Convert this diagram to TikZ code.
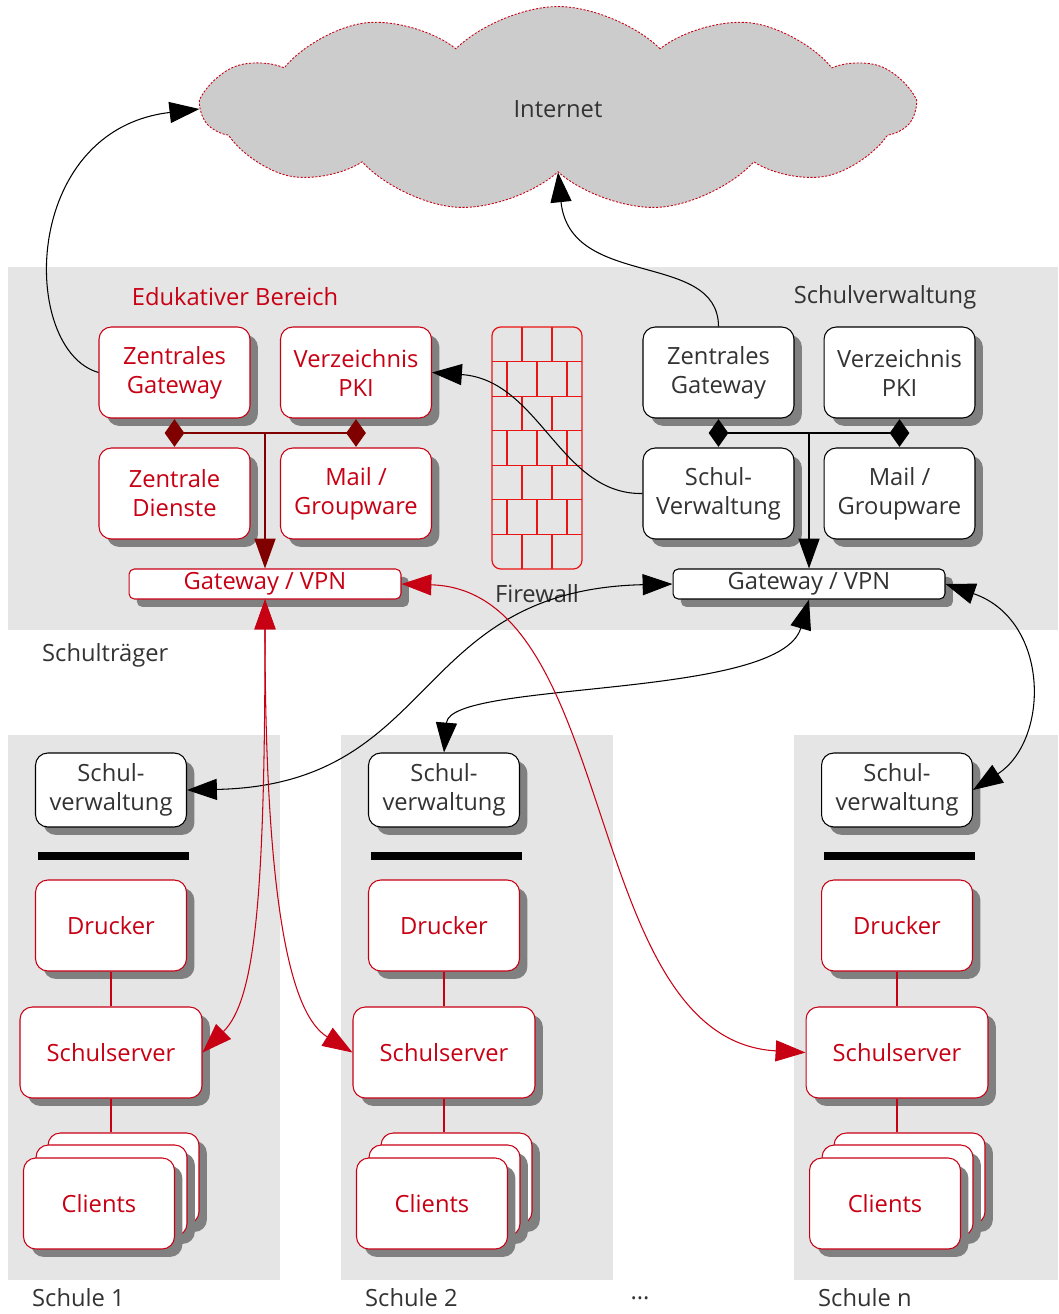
\documentclass[tikz,border=0pt]{standalone}
\usepackage{fontspec}
\setmainfont{Open Sans}
\usetikzlibrary{arrows.meta,shapes.geometric,shapes.symbols,shadows,positioning}
\definecolor{edured}{RGB}{200,0,20}
\definecolor{darktext}{RGB}{51,51,51}
\definecolor{bandgray}{RGB}{229,229,229}
\definecolor{cloudgray}{RGB}{204,204,204}
\definecolor{shadowgray}{RGB}{128,128,128}
\definecolor{connred}{RGB}{128,0,0}
\definecolor{brickred}{RGB}{235,20,20}
\begin{document}
\begin{tikzpicture}[x=0.02cm,y=-0.02cm,font=\fontsize{13.5}{16.5}\selectfont,
  >={Triangle[length=17pt,width=12pt]},
  boxstyle/.style={rounded corners=7pt,fill=white,line width=0.6pt,align=center,
    minimum width=3.02cm,minimum height=1.82cm,inner sep=2pt,
    drop shadow={shadow xshift=4.5pt,shadow yshift=-4.5pt,fill=shadowgray,opacity=1}},
  edustyle/.style={boxstyle,draw=edured,text=edured},
  verwstyle/.style={boxstyle,draw=black,text=darktext},
  gwstyle/.style={minimum width=5.44cm,minimum height=0.6cm,rounded corners=3pt},
  knot/.style={diamond,inner sep=0pt,minimum width=0.4cm,minimum height=0.56cm},
  brick/.style={draw=brickred,line width=0.7pt},
  wire/.style={line width=0.6pt},
  redwire/.style={line width=0.6pt,edured}]
 \useasboundingbox (0,0) rectangle (1058,1314);

 % Schultraeger und Schulen
 \fill[bandgray] (8,267) rectangle (1058,630);
 \foreach \dx in {0,333,786}
   \fill[bandgray] (8+\dx,735) rectangle ({min(280+\dx,1058)},1280);

 \node[cloud,cloud puffs=11,cloud puff arc=90,aspect=3.4,minimum width=14.2cm,
   minimum height=4.1cm,draw=edured,dash pattern=on 1.2pt off 0.9pt,line width=0.5pt,
   fill=cloudgray,text=darktext,inner sep=0pt] (inet) at (558,109) {Internet};

 \node[text=edured] (edu) at (235,297) {Edukativer Bereich};
 \node[text=darktext] (verw) at (885,297) {Schulverwaltung};
 \node[text=darktext,anchor=west] (traeger) at (36,655) {Schulträger};

 % edukativer Bereich
 \node[edustyle] (zgwE) at (174.5,372.5) {Zentrales\\Gateway};
 \node[edustyle] (pkiE) at (356,372.5) {Verzeichnis\\PKI};
 \node[edustyle] (zdE) at (174.5,493.5) {Zentrale\\Dienste};
 \node[edustyle] (mailE) at (356,493.5) {Mail /\\Groupware};
 \node[edustyle,gwstyle] (gwE) at (265,584) {Gateway / VPN};
 \coordinate (jE) at (265,433);
 \draw[connred,line width=0.8pt] (174.5,433) -- (356,433);
 \draw[connred,fill=connred,line width=0.8pt,->] (jE) -- (gwE.north);
 \node[knot,fill=connred] (dzgE) at (174.5,433) {};
 \node[knot,fill=connred] (dpkiE) at (356,433) {};

 % Schulverwaltung
 \node[verwstyle] (zgwV) at (718.5,372.5) {Zentrales\\Gateway};
 \node[verwstyle] (pkiV) at (899.5,372.5) {Verzeichnis\\PKI};
 \node[verwstyle] (svwV) at (718.5,493.5) {Schul-\\Verwaltung};
 \node[verwstyle] (mailV) at (899.5,493.5) {Mail /\\Groupware};
 \node[verwstyle,gwstyle] (gwV) at (809,584) {Gateway / VPN};
 \coordinate (jV) at (809,433);
 \draw[line width=0.8pt] (718.5,433) -- (899.5,433);
 \draw[fill=black,line width=0.8pt,->] (jV) -- (gwV.north);
 \node[knot,fill=black] (dzgV) at (718.5,433) {};
 \node[knot,fill=black] (dpkiV) at (899.5,433) {};

 % Firewall
 \draw[brick,rounded corners=5pt] (492,327) rectangle (582,569);
 \foreach \r in {1,...,6}
   \draw[brick] (492,{327+242/7*\r}) -- (582,{327+242/7*\r});
 \foreach \r in {0,2,4,6}
   \foreach \x in {522,552}
     \draw[brick] (\x,{327+242/7*\r}) -- (\x,{327+242/7*(\r+1)});
 \foreach \r in {1,3,5}
   \foreach \x in {507,537,567}
     \draw[brick] (\x,{327+242/7*\r}) -- (\x,{327+242/7*(\r+1)});
 \node[text=darktext] (fw) at (537,594) {Firewall};

 % Schulen
 \foreach \dx/\s in {0/1,333/2,786/n} {
   \node[verwstyle,minimum height=1.48cm] (sv\s) at (111+\dx,790) {Schul-\\verwaltung};
   \draw[line width=4pt] (38+\dx,856) -- (189+\dx,856);
   \node[edustyle] (dr\s) at (111+\dx,925.5) {Drucker};
   \node[edustyle,minimum width=3.64cm] (ss\s) at (111+\dx,1052.5) {Schulserver};
   \node[edustyle] (clc\s) at (123.5+\dx,1178.5) {};
   \node[edustyle] (clb\s) at (111.5+\dx,1190.5) {};
   \node[edustyle] (cl\s) at (99+\dx,1203.5) {Clients};
   \draw[redwire] (dr\s) -- (ss\s);
   \draw[redwire] (ss\s.south) -- (ss\s.south |- clc\s.north);
   \node[text=darktext,anchor=west] (schule\s) at (26+\dx,1298) {Schule \s};
 }
 \node[text=darktext] (dots) at (640,1298) {...};

 % Verbindungen
 \draw[wire,->] (zgwE.west) .. controls (20,350) and (20,130) .. (inet.west);
 \draw[wire,->] (zgwV.north) .. controls (718,250) and (570,290) .. (inet.south);
 \draw[wire,->] (svwV.west) .. controls (560,495) and (540,380) .. (pkiE.east);
 \draw[wire,<->] (sv1.east) .. controls (440,785) and (410,590) .. (gwV.west);
 \draw[wire,<->] (sv2.north) .. controls (450,680) and (780,700) .. (gwV.south);
 \draw[wire,<->] (gwV.east) .. controls (1050,620) and (1050,740) .. (svn.east);
 \draw[redwire,<->] (gwE.south) .. controls (265,900) and (255,1000) .. (ss1.east);
 \draw[redwire,<->] (gwE.south) .. controls (265,950) and (300,1020) .. (ss2.west);
 \draw[redwire,<->] (gwE.east) .. controls (620,590) and (580,1040) .. (ssn.west);
\end{tikzpicture}
\end{document}
